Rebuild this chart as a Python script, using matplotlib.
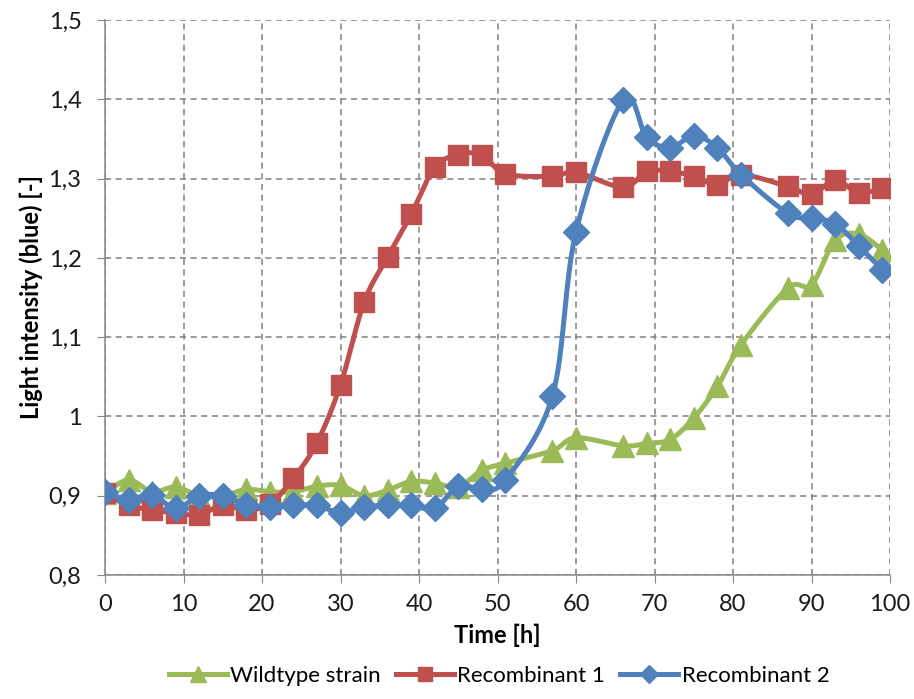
import numpy as np
import matplotlib
matplotlib.use("Agg")
import matplotlib.pyplot as plt
from matplotlib.ticker import FuncFormatter, MultipleLocator

plt.rcParams['font.family'] = ['Lato', 'DejaVu Sans']

# measurement times [h]
time_h = [0, 3, 6, 9, 12, 15, 18, 21, 24, 27, 30, 33, 36, 39, 42, 45, 48, 51,
          57, 60, 66, 69, 72, 75, 78, 81, 87, 90, 93, 96, 99]

wildtype = [0.903, 0.920, 0.905, 0.911, 0.900, 0.900, 0.908, 0.905, 0.905, 0.912,
            0.913, 0.900, 0.907, 0.918, 0.916, 0.911, 0.932, 0.941,
            0.957, 0.973, 0.963, 0.966, 0.971, 0.998, 1.038, 1.090, 1.162,
            1.166, 1.222, 1.230, 1.210]
recombinant1 = [0.903, 0.888, 0.882, 0.878, 0.876, 0.888, 0.882, 0.890, 0.922, 0.967,
                1.040, 1.144, 1.201, 1.255, 1.314, 1.330, 1.330, 1.306,
                1.303, 1.308, 1.289, 1.309, 1.309, 1.303, 1.292, 1.305, 1.290,
                1.280, 1.298, 1.282, 1.288]
recombinant2 = [0.905, 0.895, 0.901, 0.884, 0.900, 0.900, 0.888, 0.886, 0.888, 0.888,
                0.878, 0.886, 0.888, 0.888, 0.884, 0.912, 0.909, 0.920,
                1.026, 1.233, 1.399, 1.352, 1.339, 1.354, 1.339, 1.305, 1.256,
                1.250, 1.243, 1.215, 1.185]

names = ["Wildtype strain", "Recombinant 1", "Recombinant 2"]
colors = ["#9BBB59", "#C0504D", "#4F81BD"]
markers = ["^", "s", "D"]
msizes = [16, 14.5, 13]


def smooth(x, y, n=20):
    # Bezier smoothing through every point (control points from neighbours)
    x = np.asarray(x, float)
    y = np.asarray(y, float)
    xs, ys = [x[0]], [y[0]]
    t = np.linspace(0, 1, n + 1)[1:]
    for i in range(len(x) - 1):
        p0 = np.array([x[max(i - 1, 0)], y[max(i - 1, 0)]])
        p1 = np.array([x[i], y[i]])
        p2 = np.array([x[i + 1], y[i + 1]])
        p3 = np.array([x[min(i + 2, len(x) - 1)], y[min(i + 2, len(x) - 1)]])
        c1 = p1 + (p2 - p0) / 6.0
        c2 = p2 - (p3 - p1) / 6.0
        b = ((1 - t) ** 3)[:, None] * p1 + (3 * (1 - t) ** 2 * t)[:, None] * c1 \
            + (3 * (1 - t) * t ** 2)[:, None] * c2 + (t ** 3)[:, None] * p2
        xs.extend(b[:, 0])
        ys.extend(b[:, 1])
    return xs, ys


fig = plt.figure(figsize=(9.14, 6.99), dpi=100)
ax = fig.add_axes([0.1149, 0.1774, 0.8589, 0.794])

for vals, name, c, m, ms in zip([wildtype, recombinant1, recombinant2], names, colors, markers, msizes):
    sx, sy = smooth(time_h, vals)
    ax.plot(sx, sy, color=c, lw=3.6, solid_capstyle='round', zorder=3)
    ax.plot(time_h, vals, ls='none', marker=m, ms=ms, color=c, mec=c, zorder=3)
    ax.plot([], [], color=c, lw=3.6, marker=m, ms=ms * 0.72, label=name)

ax.set_xlim(0, 100)
ax.set_ylim(0.8, 1.5)
ax.xaxis.set_major_locator(MultipleLocator(10))
ax.yaxis.set_major_locator(MultipleLocator(0.1))
ax.yaxis.set_major_formatter(FuncFormatter(lambda v, p: ('%g' % round(v, 2)).replace('.', ',')))

ax.grid(True, color='#808080', ls=(0, (4, 3)), lw=1.1)
for s in ['top', 'right']:
    ax.spines[s].set_visible(False)
for s in ['left', 'bottom']:
    ax.spines[s].set_color('#868686')
    ax.spines[s].set_linewidth(1.1)
ax.tick_params(direction='out', length=6, color='#868686', labelsize=17, pad=8,
               labelcolor='#1a1a1a')
ax.tick_params(axis='y', pad=11)

ax.set_xlabel("Time [h]", fontsize=17, fontweight='bold', labelpad=6)
ax.set_ylabel("Light intensity (blue) [-]", fontsize=17, fontweight='bold', labelpad=4)

fig.legend(loc='lower center', bbox_to_anchor=(0.546, -0.010), ncol=3, frameon=False,
           fontsize=16, handlelength=2.6, handletextpad=0.15, columnspacing=0.7)

fig.savefig("out.png", dpi=100)
